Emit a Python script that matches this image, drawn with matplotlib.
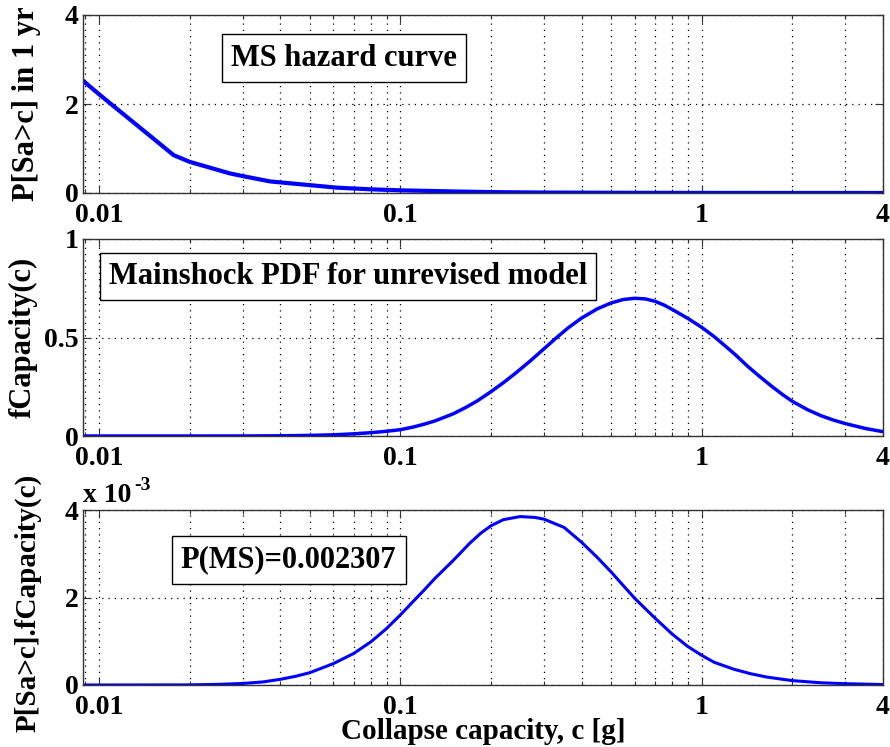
import numpy as np
import matplotlib
matplotlib.use('Agg')
import matplotlib.pyplot as plt
from matplotlib.ticker import FixedLocator, NullFormatter

# Curva de peligro sísmico (MS)
hazard_c = [0.0089, 0.01, 0.0177, 0.02, 0.0272, 0.03, 0.037, 0.0477, 0.0616,
            0.0795, 0.1, 0.15, 0.2, 0.3, 0.5, 1.0, 2.0, 4.0]
hazard_p = [2.51, 2.22, 0.85, 0.70, 0.44, 0.38, 0.26, 0.19, 0.12,
            0.083, 0.06, 0.035, 0.02, 0.01, 0.005, 0.002, 0.0005, 0.0001]

# PDF de capacidad (modelo no revisado)
pdf_c = [0.0089, 0.02, 0.03, 0.04, 0.05, 0.06, 0.07, 0.08, 0.09, 0.1, 0.11, 0.12,
         0.13, 0.14, 0.15, 0.165, 0.18, 0.2, 0.22, 0.24, 0.27, 0.3, 0.33, 0.36,
         0.4, 0.45, 0.5, 0.55, 0.6, 0.65, 0.7, 0.75, 0.8, 0.9, 1.0, 1.1, 1.2,
         1.3, 1.419, 1.55, 1.7, 1.85, 2.0, 2.25, 2.5, 2.75, 3.0, 3.5, 4.0]
pdf_v = [0.0, 0.0, 0.0002, 0.001, 0.003, 0.006, 0.011, 0.017, 0.024, 0.032, 0.045, 0.06,
         0.076, 0.095, 0.113, 0.145, 0.178, 0.225, 0.271, 0.316, 0.381, 0.443, 0.499, 0.548,
         0.599, 0.645, 0.675, 0.693, 0.699, 0.696, 0.684, 0.665, 0.642, 0.597, 0.552, 0.505, 0.456,
         0.41, 0.355, 0.305, 0.255, 0.212, 0.176, 0.133, 0.102, 0.08, 0.063, 0.038, 0.022]

# Producto P[Sa>c]*fCapacity(c), en unidades de 1e-3
prod_c = [0.0089, 0.02, 0.025, 0.03, 0.035, 0.04, 0.045, 0.05, 0.06, 0.07, 0.08,
          0.09, 0.1, 0.11, 0.12, 0.13, 0.15, 0.17, 0.185, 0.2, 0.22, 0.25, 0.28,
          0.3, 0.35, 0.4, 0.45, 0.5, 0.55, 0.6, 0.7, 0.8, 0.9, 1.0, 1.1, 1.28,
          1.45, 1.65, 2.0, 2.5, 3.0, 4.0]
prod_v = [0.0, 0.003, 0.015, 0.035, 0.07, 0.13, 0.2, 0.28, 0.49, 0.72, 0.99,
          1.29, 1.60, 1.90, 2.17, 2.43, 2.85, 3.24, 3.47, 3.64, 3.78, 3.85, 3.83,
          3.79, 3.60, 3.26, 2.92, 2.59, 2.27, 1.98, 1.53, 1.16, 0.88, 0.68, 0.52, 0.36,
          0.26, 0.18, 0.10, 0.05, 0.03, 0.01]

xticks = [0.01, 0.1, 1, 4]
xticklabels = ['0.01', '0.1', '1', '4']

plt.rcParams['font.family'] = ['Liberation Serif', 'DejaVu Serif']
plt.rcParams['font.weight'] = 'bold'
plt.rcParams['axes.labelweight'] = 'bold'

fig = plt.figure(figsize=(8.9, 7.47), dpi=100)
W, H = 890.0, 747.0

def crear_eje(top, bottom):
    # posición en píxeles -> fracción de figura
    ax = fig.add_axes([83 / W, 1 - bottom / H, 800 / W, (bottom - top) / H])
    ax.set_xscale('log')
    ax.set_xlim(0.00885, 4)
    minors = [m * 10.0 ** e for e in (-3, -2, -1, 0) for m in range(2, 10)]
    minors = [v for v in minors if 0.00885 < v < 4]
    ax.xaxis.set_major_locator(FixedLocator(xticks))
    ax.xaxis.set_minor_locator(FixedLocator(minors))
    ax.set_xticklabels(xticklabels)
    ax.xaxis.set_minor_formatter(NullFormatter())
    ax.tick_params(which='both', direction='in', top=True, right=True,
                   labelsize=20, width=0.8, color='#333333')
    ax.tick_params(which='major', length=6)
    ax.tick_params(which='minor', length=3)
    ax.tick_params(axis='x', pad=7)
    ax.tick_params(axis='y', pad=3)
    ax.grid(True, which='both', axis='x', linestyle=(0, (1, 4)), color='black', linewidth=0.9)
    ax.grid(True, which='major', axis='y', linestyle=(0, (1, 4)), color='black', linewidth=0.9)
    for s in ax.spines.values():
        s.set_color('#333333')
        s.set_linewidth(1.0)
    return ax

caja = dict(boxstyle='square,pad=0.3', fc='white', ec='black', lw=1.0)

# Panel superior
ax1 = crear_eje(15, 193)
ax1.plot(hazard_c, hazard_p, color='#0000ff', linewidth=3)
ax1.set_ylim(0, 4)
ax1.set_yticks([0, 2, 4])
ax1.set_ylabel('P[Sa>c] in 1 yr', fontsize=22)
ax1.yaxis.set_label_coords(-0.052, 0.5)
ax1.text(0.326, 0.758, 'MS hazard curve', transform=ax1.transAxes, fontsize=22,
         ha='center', va='center', bbox=caja, zorder=5)

# Panel medio
ax2 = crear_eje(239, 436)
ax2.plot(pdf_c, pdf_v, color='#0000ff', linewidth=2.5)
ax2.set_ylim(0, 1)
ax2.set_yticks([0, 0.5, 1])
ax2.set_yticklabels(['0', '0.5', '1'])
ax2.set_ylabel('fCapacity(c)', fontsize=22)
ax2.yaxis.set_label_coords(-0.057, 0.5)
ax2.text(0.331, 0.81, 'Mainshock PDF for unrevised model', transform=ax2.transAxes,
         fontsize=22, ha='center', va='center', bbox=caja, zorder=5)

# Panel inferior
ax3 = crear_eje(510, 685)
ax3.plot(prod_c, prod_v, color='#0000ff', linewidth=2.2)
ax3.set_ylim(0, 4)
ax3.set_yticks([0, 2, 4])
ax3.set_ylabel('P[Sa>c].fCapacity(c)', fontsize=21)
ax3.yaxis.set_label_coords(-0.052, 0.47)
ax3.set_xlabel('Collapse capacity, c [g]', fontsize=21, labelpad=-1)
ax3.text(0.257, 0.714, 'P(MS)=0.002307', transform=ax3.transAxes, fontsize=22,
         ha='center', va='center', bbox=caja, zorder=5)
ax3.text(0.0, 1.046, 'x 10', transform=ax3.transAxes, fontsize=20,
         ha='left', va='baseline')
ax3.text(0.064, 1.114, '-3', transform=ax3.transAxes, fontsize=14,
         ha='left', va='baseline')

plt.savefig('out.png', dpi=100)
plt.close()
